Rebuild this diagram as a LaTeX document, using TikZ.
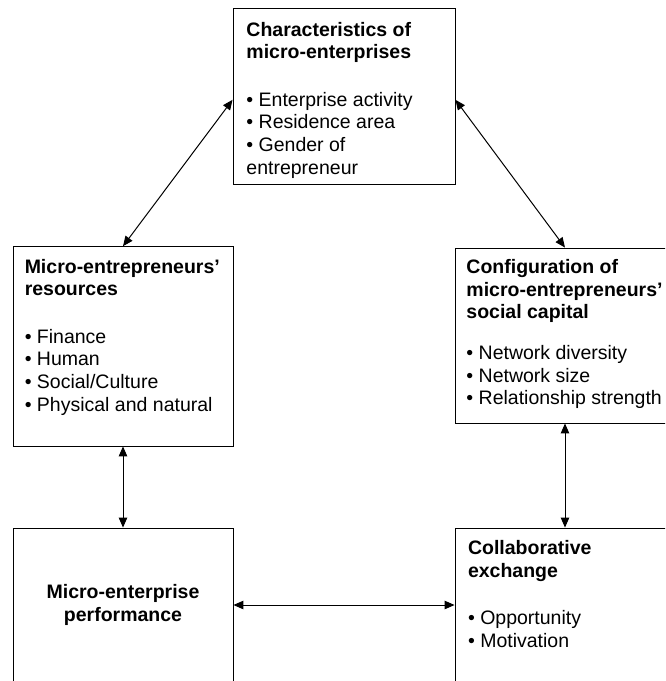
\documentclass[tikz,border=0pt]{standalone}
\usepackage{fontspec}
\setmainfont{Liberation Sans}
\usetikzlibrary{arrows.meta}

\begin{document}
\begin{tikzpicture}[x=1pt,y=-1pt]
\tikzstyle{every node}+=[inner sep=0pt,font=\fontsize{19.5}{22.7}\selectfont]
\tikzstyle{box}=[draw=black,line width=0.9pt,minimum width=220pt]
\tikzstyle{txt}=[anchor=north west,align=left]
\tikzstyle{link}=[line width=1pt,{Triangle[length=10pt,width=8.5pt]}-{Triangle[length=10pt,width=8.5pt]}]
\clip (0,0) rectangle (665,681);
\node [box,minimum width=222pt,minimum height=176pt] (char) at (344,96.3) {};
\node [box,minimum height=199.3pt] (res) at (123,346.3) {};
\node [box,minimum height=175pt] (soc) at (565,335.5) {};
\node [box,minimum height=154pt,align=center,font=\fontsize{19.5}{22.7}\selectfont\bfseries] (perf) at (123,605) {Micro-enterprise\\performance};
\node [box,minimum height=154pt] (coll) at (565,605) {};
\node [txt] (chartxt) at ([shift={(13.7,14)}]char.north west) {\textbf{Characteristics of}\\\textbf{micro-enterprises}\\[24.6pt]• Enterprise activity\\• Residence area\\• Gender of\\entrepreneur};
\node [txt] (restxt) at ([shift={(12,12.6)}]res.north west) {\textbf{Micro-entrepreneurs’}\\\textbf{resources}\\[24.6pt]• Finance\\• Human\\• Social/Culture\\• Physical and natural};
\node [txt] (soctxt) at ([shift={(11.7,11.7)}]soc.north west) {\textbf{Configuration of}\\\textbf{micro-entrepreneurs’}\\\textbf{social capital}\\[17.8pt]• Network diversity\\• Network size\\• Relationship strength};
\node [txt] (colltxt) at ([shift={(13.3,12.7)}]coll.north west) {\textbf{Collaborative}\\\textbf{exchange}\\[24.6pt]• Opportunity\\• Motivation};
\draw [link] ([shift={(0,3.5)}]char.west) -- (res.north);
\draw [link] ([shift={(0,3.5)}]char.east) -- (soc.north);
\draw [link] (res.south) -- (perf.north);
\draw [link] (soc.south) -- (coll.north);
\draw [link] (perf.east) -- (coll.west);
\end{tikzpicture}
\end{document}
